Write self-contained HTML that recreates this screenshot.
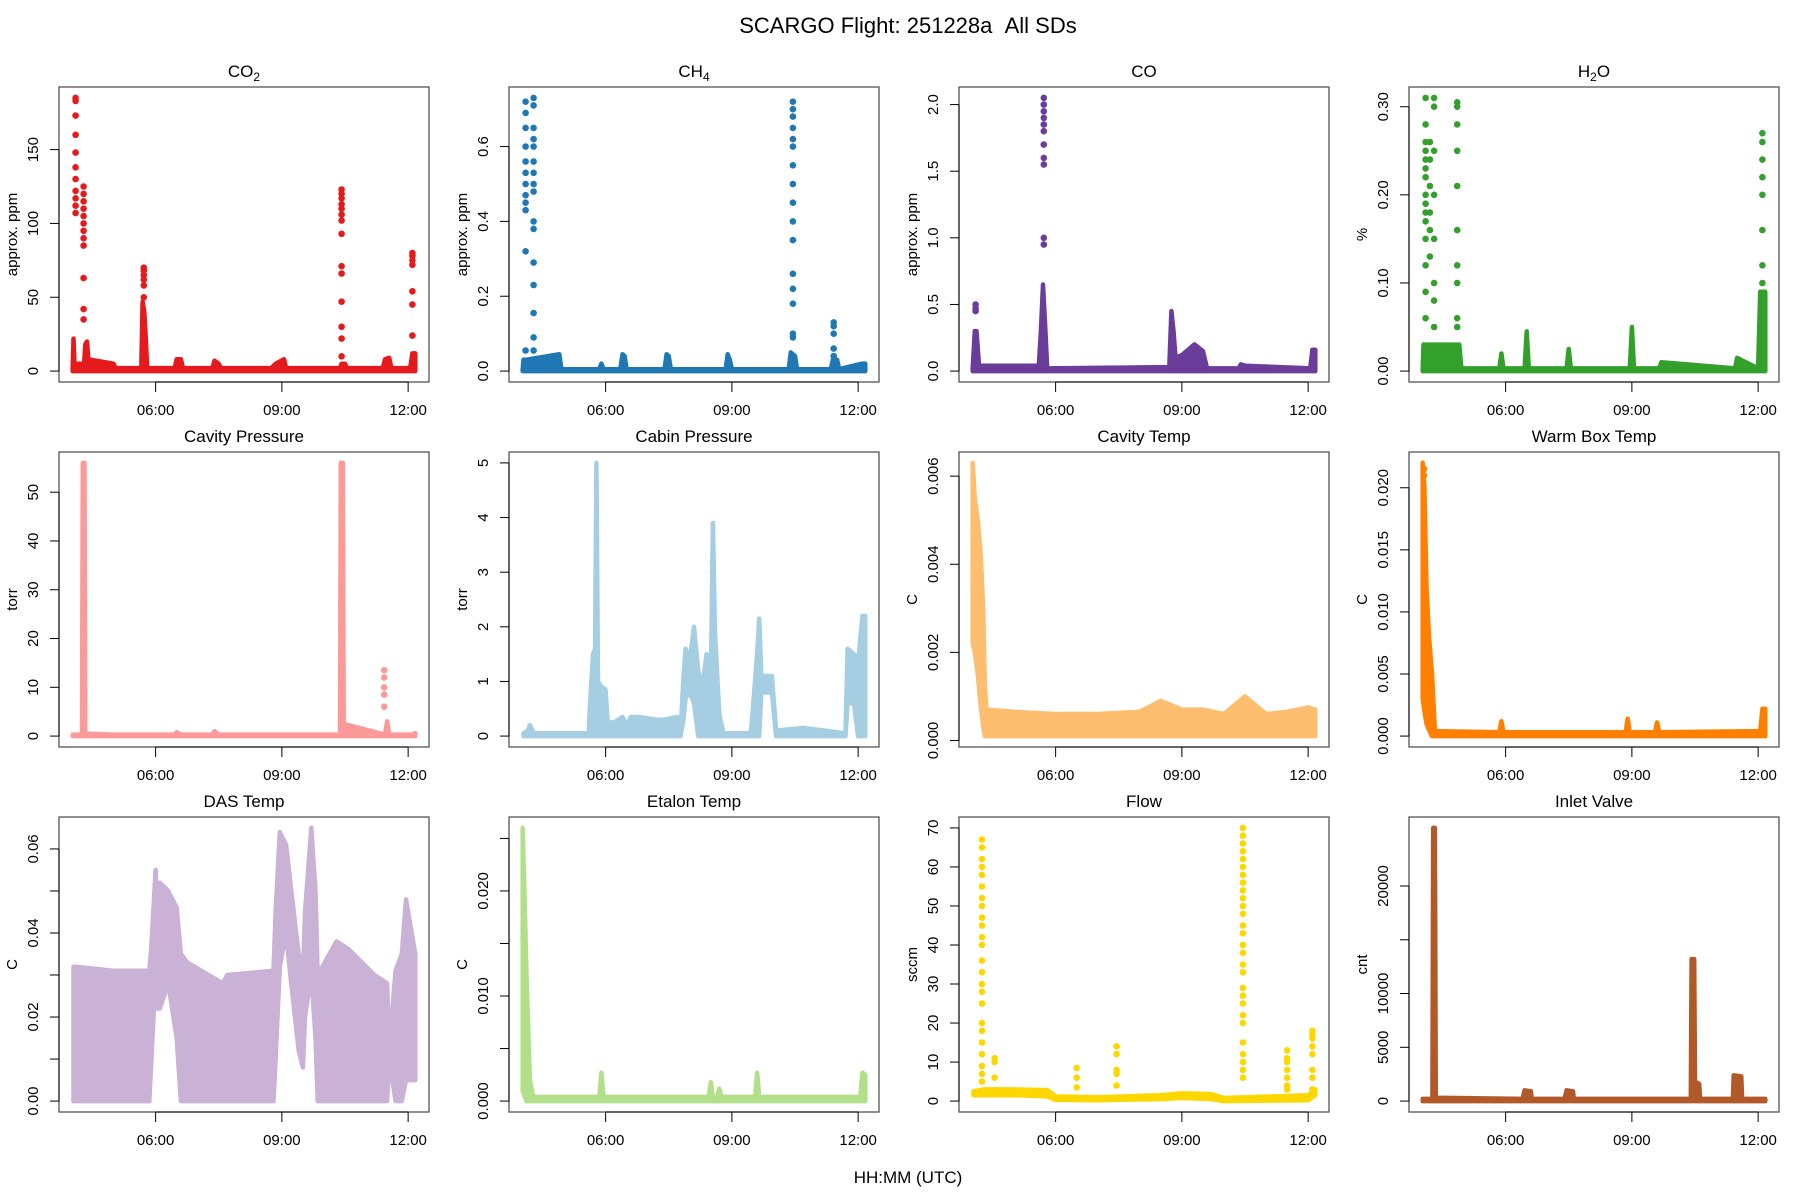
<!DOCTYPE html>
<html><head><meta charset="utf-8"><title>SCARGO Flight 251228a All SDs</title>
<style>
html,body{margin:0;padding:0;background:#fff;}
svg{display:block;font-family:"Liberation Sans",Arial,sans-serif;}
</style></head>
<body>
<svg id="fig" width="1800" height="1200" viewBox="0 0 1800 1200" xmlns="http://www.w3.org/2000/svg">
<rect x="0" y="0" width="1800" height="1200" fill="#fff"/>
<text x="908" y="33" text-anchor="middle" font-size="22" fill="#000">SCARGO Flight: 251228a &#160;All SDs</text>
<text x="908" y="1183" text-anchor="middle" font-size="17" fill="#000">HH:MM (UTC)</text>
</svg>
<script>
// shared x (time, decimal hours UTC)
const xTickVals=[6,9,12];
const xTickLabels=["06:00","09:00","12:00"];
const tStart=4.03, tEnd=12.17;

// CO2
const co2BandT=[4.03,4.05,4.07,4.3,4.33,4.37,4.4,5.0,5.05,5.66,5.69,5.73,5.77,5.8,6.45,6.5,6.6,6.65,7.35,7.4,7.5,7.55,8.75,8.85,9.05,9.1,10.38,10.42,10.5,10.55,11.4,11.45,11.55,11.6,12.05,12.1,12.17];
const co2BandHi=[2,22,5,5,18,20,8,5,2,2,47,40,20,2,2,8,8,2,2,7,5,2,2,5,8,2,2,5,5,2,2,8,9,2,2,12,12];
const co2BandLo=[0,0,0,0,0,0,0,0,0,0,0,0,0,0,0,0,0,0,0,0,0,0,0,0,0,0,0,0,0,0,0,0,0,0,0,0,0];
const co2SpikeT=[4.1,4.29,5.72,10.42,12.1];
const co2SpikeV=[[185,183,173,160,148,138,130,122,117,112,107],[125,120,115,110,105,100,95,90,85,63,42,35],[70,68,65,62,58,50],[123,120,117,113,110,106,102,93,71,66,47,30,22,10],[80,78,75,72,54,45,24]];
const co2Ticks=[0,50,100,150];
const co2TickLabels=["0","50","100","150"];

// CH4
const ch4BandT=[4.03,4.05,4.1,4.9,4.95,5.85,5.9,5.95,6.35,6.4,6.45,6.5,7.4,7.45,7.5,7.55,8.85,8.9,8.95,9.0,10.35,10.4,10.5,10.55,11.35,11.4,11.5,11.55,12.1,12.17];
const ch4BandHi=[0.005,0.03,0.03,0.045,0.005,0.005,0.02,0.005,0.005,0.045,0.04,0.005,0.005,0.045,0.04,0.005,0.005,0.045,0.03,0.005,0.005,0.05,0.04,0.005,0.005,0.03,0.03,0.005,0.02,0.02];
const ch4BandLo=[0,0,0,0,0,0,0,0,0,0,0,0,0,0,0,0,0,0,0,0,0,0,0,0,0,0,0,0,0,0];
const ch4SpikeT=[4.1,4.29,10.45,11.42];
const ch4SpikeV=[[0.72,0.69,0.65,0.6,0.56,0.53,0.5,0.47,0.45,0.43,0.32,0.055],[0.73,0.71,0.65,0.62,0.6,0.56,0.53,0.5,0.48,0.4,0.38,0.29,0.23,0.155,0.09,0.055],[0.72,0.7,0.68,0.65,0.62,0.6,0.55,0.5,0.45,0.4,0.35,0.26,0.22,0.18,0.1,0.09],[0.13,0.12,0.1,0.06,0.04]];
const ch4Ticks=[0,0.2,0.4,0.6];
const ch4TickLabels=["0.0","0.2","0.4","0.6"];

// CO
const coBandT=[4.03,4.08,4.12,4.18,4.25,5.6,5.65,5.7,5.75,5.8,8.7,8.75,8.8,8.85,9.0,9.3,9.5,9.6,10.35,10.4,10.5,12.05,12.1,12.17];
const coBandHi=[0.02,0.3,0.3,0.04,0.04,0.04,0.3,0.65,0.35,0.02,0.03,0.45,0.3,0.1,0.12,0.2,0.15,0.02,0.02,0.05,0.04,0.02,0.16,0.16];
const coBandLo=[0,0,0,0,0,0,0,0,0,0,0,0,0,0,0,0,0,0,0,0,0,0,0,0];
const coSpikeT=[4.1,5.72];
const coSpikeV=[[0.5,0.47,0.45],[2.05,2.0,1.95,1.9,1.85,1.8,1.7,1.6,1.55,1.0,0.95]];
const coTicks=[0,0.5,1,1.5,2];
const coTickLabels=["0.0","0.5","1.0","1.5","2.0"];

// H2O
const h2oBandT=[4.03,4.05,4.9,4.95,5.85,5.9,5.95,6.45,6.5,6.55,7.45,7.5,7.55,8.95,9.0,9.05,9.65,9.7,11.45,11.5,12.0,12.05,12.17];
const h2oBandHi=[0.003,0.03,0.03,0.003,0.003,0.02,0.003,0.003,0.045,0.003,0.003,0.025,0.003,0.003,0.05,0.003,0.003,0.01,0.003,0.015,0.003,0.09,0.09];
const h2oBandLo=[0,0,0,0,0,0,0,0,0,0,0,0,0,0,0,0,0,0,0,0,0,0,0];
const h2oSpikeT=[4.1,4.2,4.3,4.85,12.1];
const h2oSpikeV=[[0.31,0.28,0.26,0.25,0.24,0.23,0.22,0.2,0.19,0.18,0.17,0.15,0.12,0.09,0.06],[0.26,0.24,0.21,0.18,0.16,0.13],[0.31,0.3,0.25,0.2,0.15,0.1,0.08,0.05],[0.305,0.3,0.28,0.25,0.21,0.16,0.12,0.1,0.06,0.05],[0.27,0.26,0.24,0.22,0.2,0.16,0.12,0.1]];
const h2oTicks=[0,0.1,0.2,0.3];
const h2oTickLabels=["0.00","0.10","0.20","0.30"];

// Cavity Pressure
const cavpBandT=[4.03,4.25,4.27,4.31,4.33,5.0,6.45,6.5,6.6,7.35,7.4,7.5,10.38,10.4,10.45,10.47,11.45,11.5,11.55,12.1,12.17];
const cavpBandHi=[0.3,0.3,56,56,0.5,0.3,0.3,0.8,0.3,0.3,1,0.3,0.3,56,56,2.5,0.3,3,0.3,0.3,0.6];
const cavpBandLo=[0,0,0,0,0,0,0,0,0,0,0,0,0,0,0,0,0,0,0,0,0];
const cavpSpikeT=[11.43];
const cavpSpikeV=[[13.5,12,10,8.5,6]];
const cavpTicks=[0,10,20,30,40,50];
const cavpTickLabels=["0","10","20","30","40","50"];

// Cabin Pressure
const cabBandT=[4.05,4.15,4.2,4.3,5.6,5.62,5.7,5.75,5.78,5.82,5.9,6.0,6.05,6.2,6.4,6.5,6.6,6.8,7.2,7.4,7.7,7.78,7.85,7.9,8.0,8.1,8.2,8.3,8.4,8.5,8.55,8.6,8.7,8.8,9.45,9.5,9.6,9.65,9.7,9.95,10.05,10.7,11.7,11.75,11.9,12.0,12.1,12.17];
const cabBandHi=[0.05,0.1,0.2,0.05,0.05,0.45,1.5,1.6,5.0,1.0,0.9,0.85,0.25,0.25,0.35,0.2,0.35,0.35,0.3,0.3,0.35,0.05,1.1,1.6,1.4,2.0,1.2,0.9,1.5,1.0,3.9,1.9,0.4,0.05,0.05,0.5,1.5,2.15,1.1,1.1,0.1,0.15,0.05,1.6,1.5,1.35,2.2,2.2];
const cabBandLo=[0,0,0,0,0,0,0,0,0,0,0,0,0,0,0,0,0,0,0,0,0,0,0.3,0.7,0.8,0.6,0,0,0,0,0,0,0,0,0,0,0,0,0.8,0.8,0,0,0,0.6,0.6,0,0,0];
const cabSpikeT=[8.55];
const cabSpikeV=[[3.2,3.0,2.6,2.4,2.2,2.0,1.8]];
const cabTicks=[0,1,2,3,4,5];
const cabTickLabels=["0","1","2","3","4","5"];

// Cavity Temp
const cavtBandT=[4.03,4.08,4.15,4.22,4.28,4.32,4.36,5.0,6.0,7.0,8.0,8.5,9.0,9.5,10.0,10.5,11.0,11.5,12.0,12.17];
const cavtBandHi=[0.0063,0.0055,0.005,0.0042,0.003,0.0012,0.0007,0.00065,0.0006,0.0006,0.00065,0.0009,0.0007,0.0007,0.0006,0.001,0.0006,0.00065,0.00075,0.0007];
const cavtBandLo=[0.0022,0.002,0.0015,0.0008,0.0003,0.0001,0.0001,0.0001,0.0001,0.0001,0.0001,0.0001,0.0001,0.0001,0.0001,0.0001,0.0001,0.0001,0.0001,0.0001];
const cavtSpikeT=[4.05];
const cavtSpikeV=[[0.0045,0.004,0.0035]];
const cavtTicks=[0,0.002,0.004,0.006];
const cavtTickLabels=["0.000","0.002","0.004","0.006"];

// Warm Box Temp
const wbBandT=[4.03,4.07,4.12,4.18,4.25,4.32,5.85,5.9,5.95,8.85,8.9,8.95,9.55,9.6,9.65,12.05,12.1,12.17];
const wbBandHi=[0.022,0.02,0.012,0.008,0.005,0.0004,0.0003,0.0012,0.0003,0.0003,0.0014,0.0003,0.0003,0.0011,0.0003,0.0004,0.0022,0.0022];
const wbBandLo=[0.003,0.002,0.001,0.0005,0,0,0,0,0,0,0,0,0,0,0,0,0,0];
const wbSpikeT=[4.06];
const wbSpikeV=[[0.0215,0.021]];
const wbTicks=[0,0.005,0.01,0.015,0.02];
const wbTickLabels=["0.000","0.005","0.010","0.015","0.020"];

// DAS Temp
const dasBandT=[4.05,5.0,5.85,5.9,6.0,6.05,6.1,6.3,6.5,6.6,6.75,7.6,7.7,8.8,8.85,8.95,9.1,9.2,9.4,9.5,9.55,9.7,9.8,9.85,10.3,10.6,11.2,11.5,11.55,11.7,11.85,11.95,12.17];
const dasBandHi=[0.032,0.031,0.031,0.037,0.055,0.045,0.052,0.05,0.046,0.035,0.033,0.028,0.03,0.031,0.045,0.064,0.061,0.052,0.035,0.03,0.045,0.065,0.05,0.03,0.038,0.036,0.03,0.028,0.012,0.031,0.035,0.048,0.035];
const dasBandLo=[0,0,0,0.01,0.03,0.022,0.022,0.028,0.015,0,0,0,0,0,0.01,0.032,0.04,0.03,0.012,0.008,0.02,0.03,0.015,0,0,0,0,0,0.01,0,0,0.005,0.005];
const dasSpikeT=[];
const dasSpikeV=[];
const dasTicks=[0,0.01,0.02,0.03,0.04,0.05,0.06];
const dasTickLabels=["0.00","","0.02","","0.04","","0.06"];

// Etalon Temp
const etBandT=[4.03,4.07,4.12,4.2,4.28,5.85,5.9,5.95,8.45,8.5,8.55,8.65,8.7,8.75,9.55,9.6,9.65,12.05,12.1,12.17];
const etBandHi=[0.026,0.02,0.012,0.002,0.0004,0.0004,0.0027,0.0004,0.0004,0.0018,0.0004,0.0004,0.0012,0.0004,0.0004,0.0027,0.0004,0.0004,0.0027,0.0025];
const etBandLo=[0.001,0.0005,0,0,0,0,0,0,0,0,0,0,0,0,0,0,0,0,0,0];
const etSpikeT=[];
const etSpikeV=[];
const etTicks=[0,0.005,0.01,0.015,0.02,0.025];
const etTickLabels=["0.000","","0.010","","0.020",""];

// Flow
const flBandT=[4.05,4.3,5.0,5.8,6.0,7.0,8.5,9.0,9.7,10.0,12.0,12.17];
const flBandHi=[2.5,3,3,2.8,1.2,1,1.5,2,1.8,0.8,1.5,3];
const flBandLo=[1.5,1.5,1.5,1.2,0.3,0.2,0.5,0.8,0.5,0,0.2,1.5];
const flSpikeT=[4.25,4.55,6.5,7.45,10.45,11.5,12.1];
const flSpikeV=[[67,65,62,60,58,55,52,50,47,45,42,40,36,33,30,28,25,20,18,15,12,9,7,5],[11,10,6],[8.5,6,3.5],[14,12,8,7,4],[70,68,66,64,62,60,58,56,54,52,50,48,45,43,40,38,35,33,29,27,25,22,20,15,12,10,8,6],[13,11,10,8,6,4,3],[18,17,16,14,12,8,6,3]];
const flTicks=[0,10,20,30,40,50,60,70];
const flTickLabels=["0","10","20","30","40","50","60","70"];

// Inlet Valve
const ivBandT=[4.03,4.26,4.28,4.32,4.34,6.4,6.45,6.6,6.62,7.4,7.45,7.6,7.62,10.4,10.42,10.48,10.5,10.6,10.62,11.4,11.42,11.6,11.62,12.17];
const ivBandHi=[200,200,25400,25400,300,200,1000,900,200,200,1000,900,200,200,13200,13200,1800,1600,200,200,2400,2300,200,200];
const ivBandLo=[0,0,0,0,0,0,0,0,0,0,0,0,0,0,0,0,0,0,0,0,0,0,0,0];
const ivSpikeT=[10.45];
const ivSpikeV=[[6500,5500,4800,4000]];
const ivTicks=[0,5000,10000,15000,20000];
const ivTickLabels=["0","5000","10000","","20000"];

const panels=[
 {name:"co2",title:"CO",sub:"2",ylab:"approx. ppm",color:"#E41A1C",bt:co2BandT,bh:co2BandHi,bl:co2BandLo,st:co2SpikeT,sv:co2SpikeV,tk:co2Ticks,tl:co2TickLabels},
 {name:"ch4",title:"CH",sub:"4",ylab:"approx. ppm",color:"#1F78B4",bt:ch4BandT,bh:ch4BandHi,bl:ch4BandLo,st:ch4SpikeT,sv:ch4SpikeV,tk:ch4Ticks,tl:ch4TickLabels},
 {name:"co",title:"CO",sub:"",ylab:"approx. ppm",color:"#6A3D9A",bt:coBandT,bh:coBandHi,bl:coBandLo,st:coSpikeT,sv:coSpikeV,tk:coTicks,tl:coTickLabels},
 {name:"h2o",title:"H",sub:"2",tail:"O",ylab:"%",color:"#33A02C",bt:h2oBandT,bh:h2oBandHi,bl:h2oBandLo,st:h2oSpikeT,sv:h2oSpikeV,tk:h2oTicks,tl:h2oTickLabels},
 {name:"cavity-pressure",title:"Cavity Pressure",sub:"",ylab:"torr",color:"#FB9A99",bt:cavpBandT,bh:cavpBandHi,bl:cavpBandLo,st:cavpSpikeT,sv:cavpSpikeV,tk:cavpTicks,tl:cavpTickLabels},
 {name:"cabin-pressure",title:"Cabin Pressure",sub:"",ylab:"torr",color:"#A6CEE3",bt:cabBandT,bh:cabBandHi,bl:cabBandLo,st:cabSpikeT,sv:cabSpikeV,tk:cabTicks,tl:cabTickLabels},
 {name:"cavity-temp",title:"Cavity Temp",sub:"",ylab:"C",color:"#FDBF6F",bt:cavtBandT,bh:cavtBandHi,bl:cavtBandLo,st:cavtSpikeT,sv:cavtSpikeV,tk:cavtTicks,tl:cavtTickLabels},
 {name:"warm-box-temp",title:"Warm Box Temp",sub:"",ylab:"C",color:"#FF7F00",bt:wbBandT,bh:wbBandHi,bl:wbBandLo,st:wbSpikeT,sv:wbSpikeV,tk:wbTicks,tl:wbTickLabels},
 {name:"das-temp",title:"DAS Temp",sub:"",ylab:"C",color:"#CAB2D6",bt:dasBandT,bh:dasBandHi,bl:dasBandLo,st:dasSpikeT,sv:dasSpikeV,tk:dasTicks,tl:dasTickLabels},
 {name:"etalon-temp",title:"Etalon Temp",sub:"",ylab:"C",color:"#B2DF8A",bt:etBandT,bh:etBandHi,bl:etBandLo,st:etSpikeT,sv:etSpikeV,tk:etTicks,tl:etTickLabels},
 {name:"flow",title:"Flow",sub:"",ylab:"sccm",color:"#FFD700",bt:flBandT,bh:flBandHi,bl:flBandLo,st:flSpikeT,sv:flSpikeV,tk:flTicks,tl:flTickLabels},
 {name:"inlet-valve",title:"Inlet Valve",sub:"",ylab:"cnt",color:"#B15928",bt:ivBandT,bh:ivBandHi,bl:ivBandLo,st:ivSpikeT,sv:ivSpikeV,tk:ivTicks,tl:ivTickLabels}
];

const NS="http://www.w3.org/2000/svg";
const svg=document.getElementById("fig");
function mk(tag,attrs,parent){const e=document.createElementNS(NS,tag);for(const k in attrs)e.setAttribute(k,attrs[k]);(parent||svg).appendChild(e);return e;}

const lefts=[59,509,959,1409], tops=[87,452,817], PW=370, PH=295;
const xPad=(tEnd-tStart)*0.04, xMin=tStart-xPad, xMax=tEnd+xPad;

panels.forEach((p,i)=>{
  const L=lefts[i%4], T=tops[Math.floor(i/4)], R=L+PW, B=T+PH;
  const g=mk("g",{});
  
  
  let vals=p.bh.concat(p.bl);
  p.sv.forEach(a=>{vals=vals.concat(a);});
  const dmin=Math.min.apply(null,vals), dmax=Math.max.apply(null,vals);
  const yp=(dmax-dmin)*0.04, yMin=dmin-yp, yMax=dmax+yp;
  const sx=t=>L+(t-xMin)/(xMax-xMin)*PW;
  const sy=v=>B-(v-yMin)/(yMax-yMin)*PH;

  let pts=[];
  for(let k=0;k<p.bt.length;k++) pts.push(sx(p.bt[k]).toFixed(1)+","+sy(p.bh[k]).toFixed(1));
  for(let k=p.bt.length-1;k>=0;k--) pts.push(sx(p.bt[k]).toFixed(1)+","+sy(p.bl[k]).toFixed(1));
  const band=mk("polygon",{points:pts.join(" "),fill:p.color,stroke:p.color,"stroke-width":"4.5","stroke-linejoin":"round"},g);
  
  
  p.st.forEach((t,j)=>{
    p.sv[j].forEach(v=>{
      const c=mk("circle",{cx:sx(t).toFixed(1),cy:sy(v).toFixed(1),r:"3.3",fill:p.color},g);
      
      
    });
  });
  const box=mk("rect",{x:L,y:T,width:PW,height:PH,fill:"none",stroke:"#555","stroke-width":"1.3"},g);
  
  
  const xa=mk("g",{},g);
  
  
  mk("line",{x1:sx(xTickVals[0]),x2:sx(xTickVals[xTickVals.length-1]),y1:B,y2:B,stroke:"#000","stroke-width":"1"},xa);
  xTickVals.forEach((t,j)=>{
    mk("line",{x1:sx(t),x2:sx(t),y1:B,y2:B+10,stroke:"#000","stroke-width":"1"},xa);
    const tx=mk("text",{x:sx(t),y:B+33,"text-anchor":"middle","font-size":"15",fill:"#000"},xa);
    tx.textContent=xTickLabels[j];
    
    
  });
  const ya=mk("g",{},g);
  
  
  mk("line",{x1:L,x2:L,y1:sy(p.tk[0]),y2:sy(p.tk[p.tk.length-1]),stroke:"#000","stroke-width":"1"},ya);
  p.tk.forEach((v,j)=>{
    const y=sy(v);
    mk("line",{x1:L-9,x2:L,y1:y,y2:y,stroke:"#000","stroke-width":"1"},ya);
    if(p.tl[j]!==""){
      const tx=mk("text",{x:L-21,y:y,"text-anchor":"middle","font-size":"15",fill:"#000",transform:"rotate(-90 "+(L-21)+" "+y+")"},ya);
      tx.textContent=p.tl[j];
      
      
    }
  });
  const yl=mk("text",{x:L-42,y:T+PH/2,"text-anchor":"middle","font-size":"15",fill:"#000",transform:"rotate(-90 "+(L-42)+" "+(T+PH/2)+")"},g);
  yl.textContent=p.ylab;
  
  
  const tt=mk("text",{x:L+PW/2,y:T-10,"text-anchor":"middle","font-size":"17",fill:"#000"},g);
  
  
  const s1=mk("tspan",{},tt); s1.textContent=p.title;
  if(p.sub){const s2=mk("tspan",{"font-size":"12",dy:"4"},tt); s2.textContent=p.sub;}
  if(p.tail){const s3=mk("tspan",{dy:"-4"},tt); s3.textContent=p.tail;}
});
</script>
</body></html>
